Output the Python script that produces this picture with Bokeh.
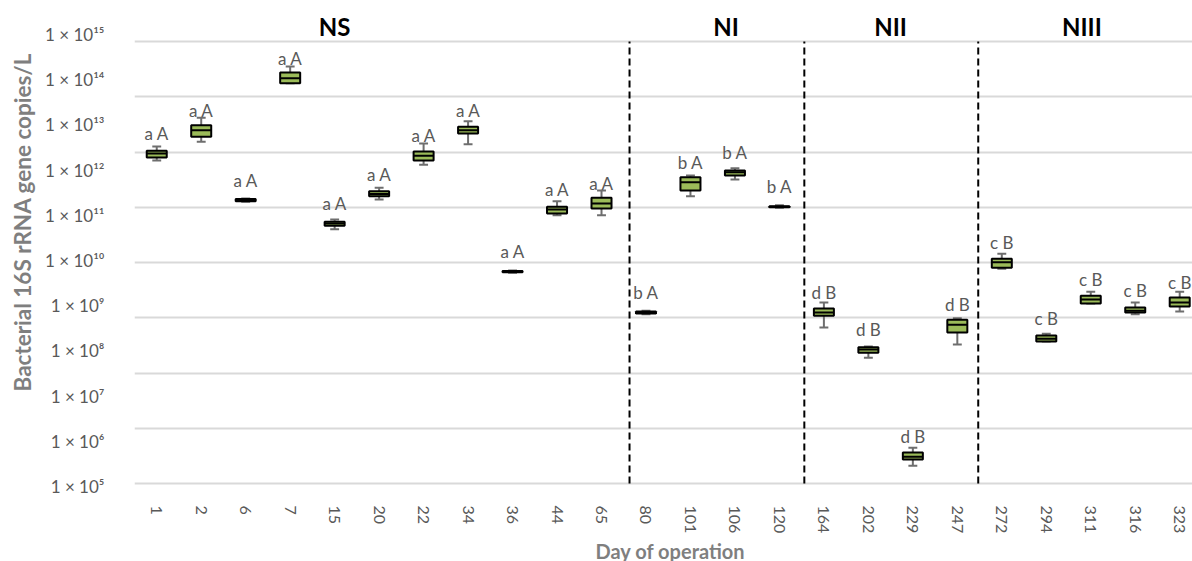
import math
from bokeh.plotting import figure
from bokeh.models import FixedTicker, ColumnDataSource, Title, Range1d
from bokeh.core.properties import value
from bokeh.embed import file_html
from bokeh.resources import INLINE

# ---------------- data (log10 of bacterial 16S rRNA gene copies/L) ----------------
days = ["1", "2", "6", "7", "15", "20", "22", "34", "36", "44", "65",
        "80", "101", "106", "120",
        "164", "202", "229", "247",
        "272", "294", "311", "316", "323"]
whisker_low = [12.21, 12.63, 11.30, 13.92, 10.69, 11.35, 12.12, 12.57, 9.73, 11.00, 11.00,
               8.81, 11.42, 11.79, 11.17,
               8.52, 7.85, 5.46, 8.14,
               9.82, 8.21, 9.05, 8.81, 8.87]
q1 = [12.28, 12.74, 11.31, 13.92, 10.77, 11.42, 12.21, 12.81, 9.74, 11.04, 11.15,
      8.83, 11.55, 11.88, 11.18,
      8.78, 7.96, 5.60, 8.41,
      9.84, 8.21, 9.05, 8.85, 8.98]
median = [12.37, 12.88, 11.33, 14.03, 10.82, 11.47, 12.32, 12.88, 9.76, 11.13, 11.26,
          8.85, 11.73, 11.95, 11.19,
          8.85, 8.03, 5.66, 8.58,
          9.96, 8.27, 9.14, 8.89, 9.07]
q3 = [12.43, 12.99, 11.36, 14.16, 10.86, 11.53, 12.41, 12.96, 9.77, 11.19, 11.39,
      8.87, 11.84, 11.99, 11.20,
      8.94, 8.08, 5.75, 8.69,
      10.04, 8.34, 9.22, 8.96, 9.18]
whisker_high = [12.52, 13.16, 11.37, 14.29, 10.91, 11.61, 12.59, 13.08, 9.78, 11.31, 11.55,
                8.89, 11.88, 12.04, 11.22,
                9.07, 8.10, 5.86, 8.72,
                10.15, 8.38, 9.31, 9.07, 9.31]
letters = ["a A"] * 11 + ["b A"] * 4 + ["d B"] * 4 + ["c B"] * 5
phases = ["NS", "NI", "NII", "NIII"]
phase_label_x = [4.0, 12.8, 16.5, 20.8]
phase_bounds = [10.63, 14.56, 18.47]
y_exponents = list(range(5, 16))
y_title = "Bacterial 16S rRNA gene copies/L"
x_title = "Day of operation"

# ---------------- figure ----------------
GRID_BOTTOM = 5.066
GRID_TOP = 14.845
grid_ticks = [GRID_BOTTOM + k * (GRID_TOP - GRID_BOTTOM) / 8 for k in range(9)]

p = figure(width=1192, height=561, frame_width=1059, frame_height=478,
           x_range=Range1d(-0.5, 23.31), y_range=Range1d(4.934, 15.509),
           output_backend="svg", toolbar_location=None,
           min_border_top=11, min_border_right=0, min_border_left=133,
           min_border_bottom=71)
p.outline_line_color = None
p.background_fill_color = "white"

FONT = "Lato"
GRAY = "#595959"
TITLE_GRAY = "#7F7F7F"

x_idx = list(range(len(days)))
src = ColumnDataSource(dict(
    x=x_idx, wl=whisker_low, q1=q1, med=median, q3=q3, wh=whisker_high,
    lab=letters,
    xl=[i - 0.225 for i in x_idx], xr=[i + 0.225 for i in x_idx],
    cl=[i - 0.1 for i in x_idx], cr=[i + 0.1 for i in x_idx],
))

# whiskers
p.segment(x0="x", y0="wl", x1="x", y1="wh", source=src, line_color="#6E6E6E", line_width=2)
p.segment(x0="cl", y0="wh", x1="cr", y1="wh", source=src, line_color="#6E6E6E", line_width=2)
p.segment(x0="cl", y0="wl", x1="cr", y1="wl", source=src, line_color="#6E6E6E", line_width=2)
# boxes
p.vbar(x="x", width=0.45, bottom="q1", top="q3", source=src,
       fill_color="#9BBB59", line_color="black", line_width=2)
p.segment(x0="xl", y0="med", x1="xr", y1="med", source=src, line_color="black", line_width=2)

# letters
p.text(x="x", y="med", text="lab", source=src, y_offset=-20,
       text_align="center", text_baseline="middle",
       text_font=value(FONT), text_font_size="17px", text_color=GRAY)

# phase boundaries
p.segment(x0=phase_bounds, y0=[GRID_BOTTOM] * 3, x1=phase_bounds, y1=[GRID_TOP] * 3,
          line_color="black", line_width=2, line_dash="7 4")

# phase titles
p.text(x=phase_label_x, y=[15.177] * 4, text=phases,
       text_align="center", text_baseline="middle",
       text_font=value(FONT), text_font_size="24px", text_font_style="bold",
       text_color="black")

# grid
p.xgrid.visible = False
p.ygrid.ticker = FixedTicker(ticks=grid_ticks)
p.ygrid.grid_line_color = "#D9D9D9"
p.ygrid.grid_line_width = 2

# y axis
sup = str.maketrans("0123456789", "⁰¹²³⁴⁵⁶⁷⁸⁹")
p.yaxis.ticker = FixedTicker(ticks=y_exponents)
p.yaxis.major_label_overrides = {e: "1 × 10" + str(e).translate(sup) for e in y_exponents}
p.yaxis.axis_line_color = None
p.yaxis.major_tick_line_color = None
p.yaxis.minor_tick_line_color = None
p.yaxis.major_label_standoff = 24
p.yaxis.major_label_text_font = FONT
p.yaxis.major_label_text_font_size = "17px"
p.yaxis.major_label_text_color = GRAY

# x axis
p.xaxis.ticker = FixedTicker(ticks=x_idx)
p.xaxis.major_label_overrides = {i: d for i, d in zip(x_idx, days)}
p.xaxis.major_label_orientation = -math.pi / 2
p.xaxis.axis_line_color = None
p.xaxis.major_tick_line_color = None
p.xaxis.minor_tick_line_color = None
p.xaxis.major_label_standoff = 10
p.xaxis.major_label_text_font = FONT
p.xaxis.major_label_text_font_size = "16px"
p.xaxis.major_label_text_color = GRAY

# axis titles
p.add_layout(Title(text=y_title, align="left", offset=98,
                   text_font=FONT, text_font_size="22.5px", text_font_style="bold",
                   text_color=TITLE_GRAY, standoff=12), "left")
p.add_layout(Title(text=x_title, align="left", offset=461, vertical_align="top",
                   text_font=FONT, text_font_size="20px", text_font_style="bold",
                   text_color=TITLE_GRAY, standoff=4), "below")

open("out.html", "w").write(file_html(p, INLINE))
